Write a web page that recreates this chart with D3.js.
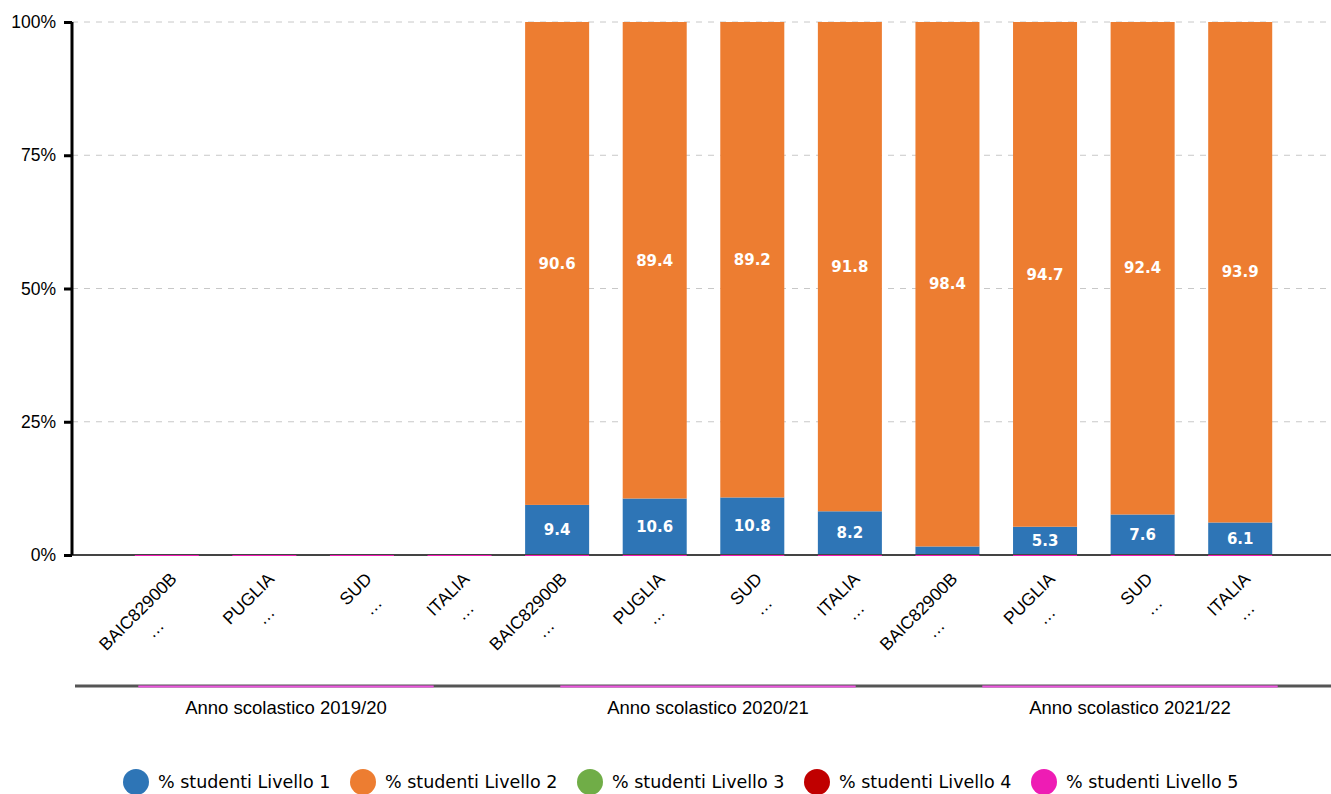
<!DOCTYPE html>
<html>
<head>
<meta charset="utf-8">
<script src="https://cdn.jsdelivr.net/npm/d3@7"></script>
<style>
  body { margin: 0; background: #fff; }
  svg { display: block; }
</style>
</head>
<body>
<div id="chart"></div>
<script>
// categories and groups
var schools = ["BAIC82900B", "PUGLIA", "SUD", "ITALIA"];
var years = ["Anno scolastico 2019/20", "Anno scolastico 2020/21", "Anno scolastico 2021/22"];
var seriesNames = ["% studenti Livello 1", "% studenti Livello 2", "% studenti Livello 3",
                   "% studenti Livello 4", "% studenti Livello 5"];
var seriesColors = ["#2E75B6", "#ED7D31", "#70AD47", "#C00000", "#EE1CB4"];

// values per category (4 per year)
var livello1 = [0, 0, 0, 0, 9.4, 10.6, 10.8, 8.2, 1.6, 5.3, 7.6, 6.1];
var livello2 = [0, 0, 0, 0, 90.6, 89.4, 89.2, 91.8, 98.4, 94.7, 92.4, 93.9];
var livello3 = [0, 0, 0, 0, 0, 0, 0, 0, 0, 0, 0, 0];
var livello4 = [0, 0, 0, 0, 0, 0, 0, 0, 0, 0, 0, 0];
var livello5 = [0, 0, 0, 0, 0, 0, 0, 0, 0, 0, 0, 0];
var yTicks = [0, 25, 50, 75, 100];

var W = 1331, H = 794;
var mLeft = 72, mRight = 1331, mTop = 22, mBottom = 555;
var sansFont = "'Liberation Sans', Arial, sans-serif";

var svg = d3.select("#chart").append("svg")
    .attr("width", W)
    .attr("height", H);

var cats = [];
years.forEach(function(y, gi) {
  schools.forEach(function(s, si) { cats.push({id: gi + "-" + si, name: s, year: y}); });
});

var rows = cats.map(function(c, i) {
  return {id: c.id, name: c.name, s0: livello1[i], s1: livello2[i], s2: livello3[i], s3: livello4[i], s4: livello5[i]};
});

var x = d3.scaleBand()
  .domain(cats.map(function(c) { return c.id; }))
  .range([118, 1289])
  .paddingInner(0.344)
  .paddingOuter(0.172);

var y = d3.scaleLinear()
  .domain([0, 100])
  .range([mBottom, mTop]);

// gridlines
svg.append("g")
  .selectAll("line")
  .data(yTicks)
  .enter().append("line")
    .attr("x1", mLeft)
    .attr("x2", mRight)
    .attr("y1", function(d) { return y(d); })
    .attr("y2", function(d) { return y(d); })
    .attr("stroke", "#c8c8c8")
    .attr("stroke-dasharray", "6,6");

// stacked bars
var stack = d3.stack().keys(["s0", "s1", "s2", "s3", "s4"]);
var layers = stack(rows);

var barG = svg.append("g");
layers.forEach(function(layer, li) {
  barG.selectAll(".b" + li)
    .data(layer)
    .enter().append("rect")
      .attr("x", function(d) { return x(d.data.id); })
      .attr("y", function(d) { return y(d[1]); })
      .attr("width", x.bandwidth())
      .attr("height", function(d) { return y(d[0]) - y(d[1]); })
      .attr("fill", seriesColors[li]);

  barG.selectAll(".l" + li)
    .data(layer.filter(function(d) { return (d[1] - d[0]) >= 3; }))
    .enter().append("text")
      .attr("x", function(d) { return x(d.data.id) + x.bandwidth() / 2; })
      .attr("y", function(d) { return (y(d[0]) + y(d[1])) / 2; })
      .attr("dy", "0.35em")
      .attr("text-anchor", "middle")
      .attr("fill", "#fff")
      .style("font-family", "'DejaVu Sans', sans-serif")
      .style("font-weight", "bold")
      .style("font-size", "15px")
      .text(function(d) { return d3.format(".1f")(d[1] - d[0]); });
});

// zero line
svg.append("line")
  .attr("x1", mLeft).attr("x2", mRight)
  .attr("y1", y(0)).attr("y2", y(0))
  .attr("stroke", "#444")
  .attr("stroke-width", 2);
svg.append("g")
  .selectAll("line")
  .data(cats)
  .enter().append("line")
    .attr("x1", function(d) { return x(d.id); })
    .attr("x2", function(d) { return x(d.id) + x.bandwidth(); })
    .attr("y1", y(0) + 0.5)
    .attr("y2", y(0) + 0.5)
    .attr("stroke", "#EE1CB4")
    .attr("stroke-width", 1);

// y axis
var yAxis = svg.append("g")
  .attr("transform", "translate(" + mLeft + ",0)")
  .call(d3.axisLeft(y).tickValues(yTicks).tickSize(8).tickFormat(function(d) { return d + "%"; }));
yAxis.select(".domain").attr("stroke", "#000").attr("stroke-width", 3).attr("d", "M0," + y(100) + "V" + y(0));
yAxis.selectAll(".tick line").attr("stroke", "#000").attr("stroke-width", 3);
yAxis.selectAll("text")
  .attr("x", -16)
  .style("font-family", sansFont)
  .style("font-size", "17.5px")
  .attr("fill", "#000");

// x labels
var xl = svg.append("g")
  .selectAll("g")
  .data(cats)
  .enter().append("g")
    .attr("transform", function(d) {
      return "translate(" + (x(d.id) + x.bandwidth() / 2 + 11) + "," + 580 + ")rotate(-45)";
    });
xl.each(function(d) {
  var g = d3.select(this);
  var t = g.append("text")
    .attr("text-anchor", "end")
    .style("font-family", sansFont)
    .style("font-size", "17.5px")
    .attr("fill", "#000")
    .text(d.name);
  var w = t.node().getComputedTextLength();
  g.append("text")
    .attr("x", -w / 2)
    .attr("y", 24)
    .attr("text-anchor", "middle")
    .style("font-family", sansFont)
    .style("font-size", "17.5px")
    .attr("fill", "#000")
    .text("\u2026");
});

// group axis
var gx = d3.scaleBand()
  .domain(years)
  .range([75, 1341])
  .paddingInner(0.3)
  .paddingOuter(0.15);

svg.append("line")
  .attr("x1", 75).attr("x2", mRight)
  .attr("y1", 686).attr("y2", 686)
  .attr("stroke", "#555")
  .attr("stroke-width", 3);
svg.append("g")
  .selectAll("line")
  .data(years)
  .enter().append("line")
    .attr("x1", function(d) { return gx(d); })
    .attr("x2", function(d) { return gx(d) + gx.bandwidth(); })
    .attr("y1", 686.5).attr("y2", 686.5)
    .attr("stroke", "#EE55E0")
    .attr("stroke-width", 2);
svg.append("g")
  .selectAll("text")
  .data(years)
  .enter().append("text")
    .attr("x", function(d) { return gx(d) + gx.bandwidth() / 2; })
    .attr("y", 714)
    .attr("text-anchor", "middle")
    .style("font-family", sansFont)
    .style("font-size", "18.5px")
    .attr("fill", "#000")
    .text(function(d) { return d; });

// legend
var legend = svg.append("g")
  .selectAll("g")
  .data(seriesNames)
  .enter().append("g")
    .attr("transform", function(d, i) { return "translate(" + (136 + i * 227) + ",782)"; });
legend.append("circle")
  .attr("r", 13)
  .attr("fill", function(d, i) { return seriesColors[i]; });
legend.append("text")
  .attr("x", 22)
  .attr("dy", "0.35em")
  .style("font-family", "'DejaVu Sans', sans-serif")
  .style("font-size", "17.5px")
  .attr("fill", "#000")
  .text(function(d) { return d; });
</script>
</body>
</html>
